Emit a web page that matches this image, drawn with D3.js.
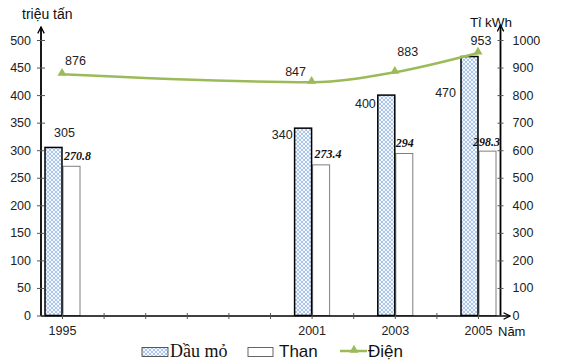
<!DOCTYPE html>
<html><head><meta charset="utf-8">
<script src="https://cdn.jsdelivr.net/npm/d3@7"></script>
<style>body{margin:0;background:#fff}svg{display:block}</style>
</head><body>
<svg id="c" width="562" height="361"></svg>
<script>
const years = [1995, 2001, 2003, 2005];
const dauMo = [305, 340, 400, 470];
const than = [270.8, 273.4, 294, 298.3];
const dien = [876, 847, 883, 953];
const leftTicks = [0, 50, 100, 150, 200, 250, 300, 350, 400, 450, 500];
const rightTicks = [0, 100, 200, 300, 400, 500, 600, 700, 800, 900, 1000];
const yearTicks = [1995, 1996, 1997, 1998, 1999, 2000, 2001, 2002, 2003, 2004, 2005];

// label placement (layout only)
const dauLab = [{dx: -8, dy: -10, a: "start"}, {dx: -19, dy: 11, a: "end"}, {dx: -19, dy: 13, a: "end"}, {dx: -22, dy: 40, a: "end"}];
const thanLab = [{dx: 2, dy: -6}, {dx: 3, dy: -7}, {dx: 1, dy: -7}, {dx: -5, dy: -5}];
const dienLab = [{dx: 3, dy: -9, a: "start"}, {dx: -16, dy: -6, a: "middle"}, {dx: 13, dy: -16, a: "middle"}, {dx: 3, dy: -8, a: "middle"}];

const svg = d3.select("#c");
const x = d3.scaleLinear().domain([1995, 2005]).range([62, 478]);
const yL = d3.scaleLinear().domain([0, 500]).range([315.5, 40]);
const yR = d3.scaleLinear().domain([0, 1000]).range([315.5, 40]);
const sans = "Liberation Sans, Arial, sans-serif";
const serif = "Liberation Serif, Times New Roman, serif";
const green = "#9BBB59";

const defs = svg.append("defs");
const pat = defs.append("pattern").attr("id", "hatch").attr("patternUnits", "userSpaceOnUse")
  .attr("width", 4).attr("height", 4);
pat.append("rect").attr("width", 4).attr("height", 4).attr("fill", "#f4f8fd");
pat.append("path").attr("d", "M0,0L4,4M4,0L0,4").attr("stroke", "#a4c0e8").attr("stroke-width", 0.9);
const mk = defs.append("marker").attr("id", "arr").attr("viewBox", "0 0 10 10").attr("refX", 9).attr("refY", 5)
  .attr("markerWidth", 8).attr("markerHeight", 8).attr("markerUnits", "userSpaceOnUse").attr("orient", "auto");
mk.append("path").attr("d", "M1,1L9,5L1,9").attr("fill", "none").attr("stroke", "#000").attr("stroke-width", 1.6);

const bw = 17;
// Than bars
svg.selectAll(".than").data(years).join("rect")
  .attr("x", (d) => x(d) + 1).attr("y", (d, i) => yL(than[i]))
  .attr("width", bw).attr("height", (d, i) => yL(0) - yL(than[i]))
  .attr("fill", "#fff").attr("stroke", "#7f7f7f").attr("stroke-width", 1);
// Dau mo bars
svg.selectAll(".dau").data(years).join("rect")
  .attr("x", (d) => x(d) - bw).attr("y", (d, i) => yL(dauMo[i]))
  .attr("width", bw).attr("height", (d, i) => yL(0) - yL(dauMo[i]))
  .attr("fill", "url(#hatch)").attr("stroke", "#000").attr("stroke-width", 1.5);

// axes
svg.append("line").attr("x1", 41).attr("x2", 41).attr("y1", 316).attr("y2", 27)
  .attr("stroke", "#000").attr("stroke-width", 1.8).attr("marker-end", "url(#arr)");
svg.append("line").attr("x1", 500.5).attr("x2", 500.5).attr("y1", 316).attr("y2", 25)
  .attr("stroke", "#000").attr("stroke-width", 1.8).attr("marker-end", "url(#arr)");
svg.append("line").attr("x1", 41).attr("x2", 510).attr("y1", 316).attr("y2", 316)
  .attr("stroke", "#000").attr("stroke-width", 1.5).attr("marker-end", "url(#arr)");

const gl = svg.append("g").attr("transform", "translate(41,0)")
  .call(d3.axisLeft(yL).tickValues(leftTicks).tickFormat(d3.format("d")).tickSize(4).tickPadding(8));
gl.select(".domain").remove();
gl.selectAll(".tick line").attr("x2", 4).attr("x1", -4).attr("stroke", "#555");
gl.selectAll(".tick text").attr("font-family", sans).attr("font-size", 12.5).attr("fill", "#222").attr("x", -10);

const gr = svg.append("g").attr("transform", "translate(500.5,0)")
  .call(d3.axisRight(yR).tickValues(rightTicks).tickFormat(d3.format("d")).tickSize(4).tickPadding(10));
gr.select(".domain").remove();
gr.selectAll(".tick line").attr("x1", -3).attr("x2", 3).attr("stroke", "#555");
gr.selectAll(".tick text").attr("font-family", sans).attr("font-size", 12.5).attr("fill", "#222").attr("x", 12);

const gx = svg.append("g").attr("transform", "translate(0,316)")
  .call(d3.axisBottom(x).tickValues(yearTicks).tickSize(3)
    .tickFormat((d) => years.includes(d) ? String(d) : ""));
gx.select(".domain").remove();
gx.selectAll(".tick line").attr("y1", -3).attr("y2", 3).attr("stroke", "#555");
gx.selectAll(".tick text").attr("font-family", sans).attr("font-size", 12.5).attr("fill", "#222").attr("y", 10);

// axis titles
svg.append("text").attr("x", 22).attr("y", 19).attr("font-family", sans).attr("font-size", 14).attr("fill", "#111").text("triệu tấn");
svg.append("text").attr("x", 470).attr("y", 27).attr("font-family", sans).attr("font-size", 13.5).attr("fill", "#111").text("Tỉ kWh");
svg.append("text").attr("x", 498).attr("y", 336).attr("font-family", sans).attr("font-size", 13).attr("fill", "#111").text("Năm");

// line
const line = d3.line().x((d, i) => x(years[i])).y((d) => yR(d)).curve(d3.curveMonotoneX);
svg.append("path").datum(dien).attr("d", line).attr("fill", "none").attr("stroke", green).attr("stroke-width", 2.5);
const tri = d3.symbol().type(d3.symbolTriangle).size(36);
svg.selectAll(".mk").data(dien).join("path")
  .attr("transform", (d, i) => `translate(${x(years[i])},${yR(d) - 1})`).attr("d", tri).attr("fill", green);

// labels
svg.selectAll(".dl").data(dauMo).join("text")
  .attr("x", (d, i) => x(years[i]) + dauLab[i].dx).attr("y", (d, i) => yL(d) + dauLab[i].dy)
  .attr("text-anchor", (d, i) => dauLab[i].a)
  .attr("font-family", sans).attr("font-size", 12.5).attr("fill", "#222").text((d) => d);
svg.selectAll(".tl").data(than).join("text")
  .attr("x", (d, i) => x(years[i]) + thanLab[i].dx).attr("y", (d, i) => yL(d) + thanLab[i].dy)
  .attr("font-family", serif).attr("font-size", 12).attr("font-weight", "bold").attr("font-style", "italic")
  .attr("fill", "#111").text((d) => d);
svg.selectAll(".el").data(dien).join("text")
  .attr("x", (d, i) => x(years[i]) + dienLab[i].dx).attr("y", (d, i) => yR(d) + dienLab[i].dy)
  .attr("text-anchor", (d, i) => dienLab[i].a)
  .attr("font-family", sans).attr("font-size", 12.5).attr("fill", "#222").text((d) => d);

// legend
const lg = svg.append("g");
lg.append("rect").attr("x", 142).attr("y", 347.5).attr("width", 26).attr("height", 9).attr("fill", "url(#hatch)").attr("stroke", "#333").attr("stroke-width", 0.8);
lg.append("text").attr("x", 170).attr("y", 357).attr("font-family", serif).attr("font-size", 18).attr("fill", "#111").text("Dầu mỏ");
lg.append("rect").attr("x", 248).attr("y", 347.5).attr("width", 25).attr("height", 9).attr("fill", "#fff").attr("stroke", "#555").attr("stroke-width", 0.9);
lg.append("text").attr("x", 279).attr("y", 357).attr("font-family", sans).attr("font-size", 17).attr("fill", "#111").text("Than");
lg.append("line").attr("x1", 340).attr("x2", 367).attr("y1", 351).attr("y2", 351).attr("stroke", green).attr("stroke-width", 2.5);
lg.append("path").attr("transform", "translate(354,350)").attr("d", tri).attr("fill", green);
lg.append("text").attr("x", 368).attr("y", 357).attr("font-family", sans).attr("font-size", 17).attr("fill", "#111").text("Điện");
</script>
</body></html>
